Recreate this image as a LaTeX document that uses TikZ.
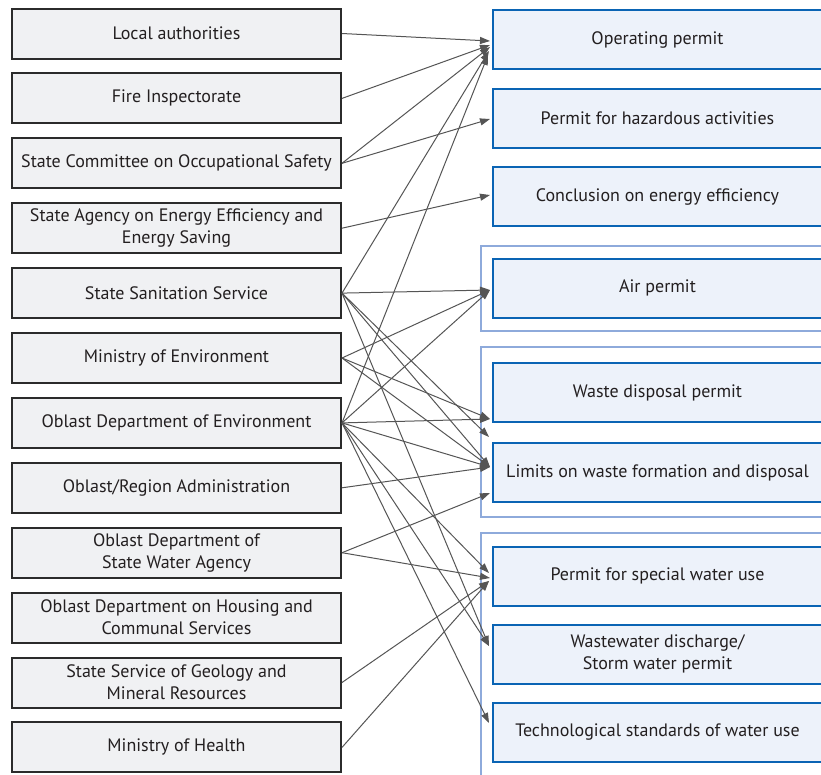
\documentclass[tikz,border=0pt]{standalone}
\usepackage{fontspec}
\setmainfont{PT Sans}
\usetikzlibrary{arrows.meta}
\definecolor{lfill}{HTML}{F0F1F3}
\definecolor{ldraw}{HTML}{2B2B2B}
\definecolor{rfill}{HTML}{EDF2FA}
\definecolor{rdraw}{HTML}{0A64B4}
\definecolor{gframe}{HTML}{8EAADB}
\definecolor{txt}{HTML}{231F20}
\definecolor{arrc}{HTML}{555555}
\tikzset{
  lbox/.style={draw=ldraw, fill=lfill, line width=2pt, minimum width=329pt, minimum height=50pt, inner sep=0pt, align=center, text=txt, font=\fontsize{18}{22}\selectfont},
  rbox/.style={draw=rdraw, fill=rfill, line width=2pt, minimum width=329pt, minimum height=59pt, inner sep=0pt, align=center, text=txt, font=\fontsize{18}{22}\selectfont},
  gbox/.style={draw=gframe, line width=2.5pt},
  arr/.style={draw=arrc, line width=1pt, -{Triangle[length=10pt,width=7pt]}}
}
\begin{document}
\begin{tikzpicture}[x=1pt,y=-1pt]
\useasboundingbox[fill=white] (0,0) rectangle (821,774);
% group frames
\draw[gbox] (481,246) rectangle (840,331);
\draw[gbox] (481,347) rectangle (840,517);
\draw[gbox] (481,533) rectangle (840,800);
% left boxes
\node[lbox] (L1) at (176.5,33.5) {Local authorities};
\node[lbox] (L2) at (176.5,98.4) {Fire Inspectorate};
\node[lbox] (L3) at (176.5,163.3) {State Committee on Occupational Safety};
\node[lbox] (L4) at (176.5,228.2) {State Agency on Energy Efficiency and\\Energy Saving};
\node[lbox] (L5) at (176.5,293.1) {State Sanitation Service};
\node[lbox] (L6) at (176.5,358.0) {Ministry of Environment};
\node[lbox] (L7) at (176.5,422.9) {Oblast Department of Environment};
\node[lbox] (L8) at (176.5,487.8) {Oblast/Region Administration};
\node[lbox] (L9) at (176.5,552.7) {Oblast Department of\\State Water Agency};
\node[lbox] (L10) at (176.5,617.6) {Oblast Department on Housing and\\Communal Services};
\node[lbox] (L11) at (176.5,682.5) {State Service of Geology and\\Mineral Resources};
\node[lbox] (L12) at (176.5,747.4) {Ministry of Health};
% right boxes
\node[rbox] (R1) at (657.5,39.5) {Operating permit};
\node[rbox] (R2) at (657.5,118) {Permit for hazardous activities};
\node[rbox] (R3) at (657.5,196.5) {Conclusion on energy efficiency};
\node[rbox] (R4) at (657.5,288) {Air permit};
\node[rbox] (R5) at (657.5,392.5) {Waste disposal permit};
\node[rbox] (R6) at (657.5,472.5) {Limits on waste formation and disposal};
\node[rbox] (R7) at (657.5,576) {Permit for special water use};
\node[rbox] (R8) at (657.5,654) {Wastewater discharge/\\Storm water permit};
\node[rbox] (R9) at (657.5,732.5) {Technological standards of water use};
% arrow tips
\coordinate (t1a) at (490,41);
\coordinate (t1b) at (490,45);
\coordinate (t1c) at (490,47);
\coordinate (t1d) at (489,51);
\coordinate (t1e) at (488,55);
\coordinate (t2) at (490,119);
\coordinate (t3) at (490,195);
\coordinate (t4) at (490,290);
\coordinate (t5) at (490,419);
\coordinate (t5b) at (489,437);
\coordinate (t6) at (490,467);
\coordinate (t6b) at (490,493);
\coordinate (t7a) at (489,573);
\coordinate (t7b) at (490,578);
\coordinate (t7c) at (489,581);
\coordinate (t8) at (489,646);
\coordinate (t9) at (489,723);
% connectors
\draw[arr] (L1.east) -- (t1a);
\draw[arr] (L2.east) -- (t1b);
\draw[arr] (L3.east) -- (t1c);
\draw[arr] (L3.east) -- (t2);
\draw[arr] (L4.east) -- (t3);
\draw[arr] (L5.east) -- (t1d);
\draw[arr] (L5.east) -- (t4);
\draw[arr] (L5.east) -- (t5b);
\draw[arr] (L5.east) -- (t6);
\draw[arr] (L5.east) -- (t8);
\draw[arr] (L6.east) -- (t4);
\draw[arr] (L6.east) -- (t5);
\draw[arr] (L6.east) -- (t6);
\draw[arr] (L7.east) -- (t1e);
\draw[arr] (L7.east) -- (t4);
\draw[arr] (L7.east) -- (t5);
\draw[arr] (L7.east) -- (t6);
\draw[arr] (L7.east) -- (t7a);
\draw[arr] (L7.east) -- (t8);
\draw[arr] (L7.east) -- (t9);
\draw[arr] (L8.east) -- (t6);
\draw[arr] (L9.east) -- (t6b);
\draw[arr] (L9.east) -- (t7b);
\draw[arr] (L11.east) -- (t7c);
\draw[arr] (L12.east) -- (t7c);
\end{tikzpicture}
\end{document}
